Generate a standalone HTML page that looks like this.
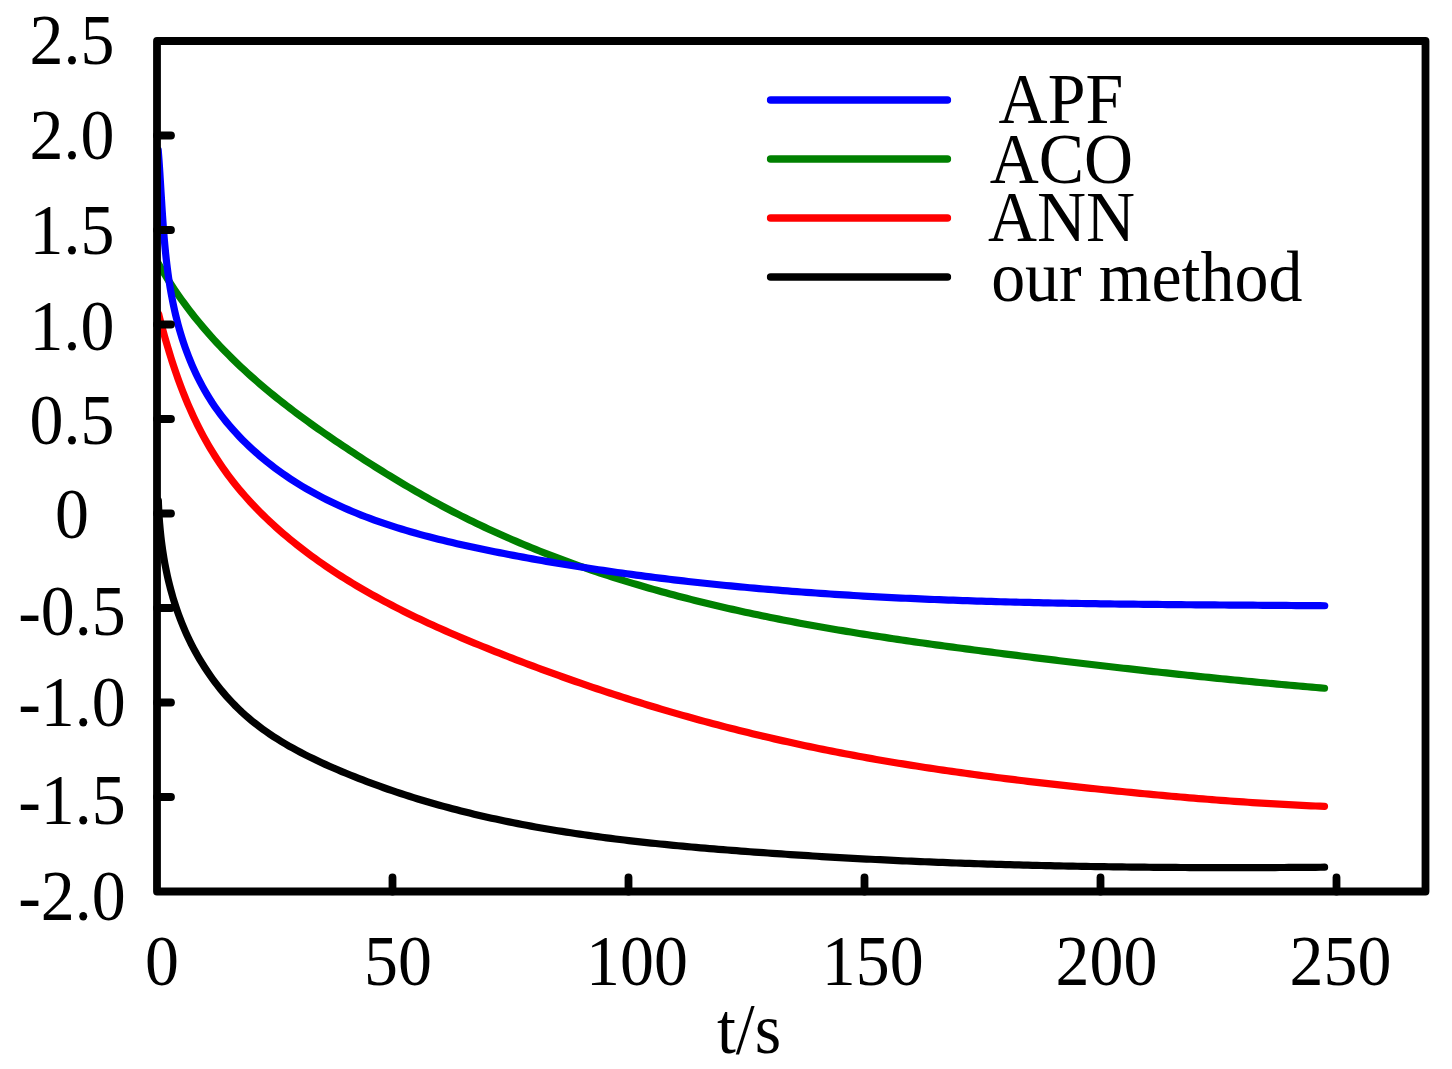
<!DOCTYPE html>
<html><head><meta charset="utf-8"><style>
html,body{margin:0;padding:0;background:#fff;}
svg{display:block;}
text{font-family:"Liberation Serif",serif;fill:#000;}
</style></head><body>
<svg width="1452" height="1069" viewBox="0 0 1452 1069">
<rect width="1452" height="1069" fill="#fff"/>
<defs><clipPath id="pc"><rect x="157" y="41" width="1268.5" height="850.5"/></clipPath></defs>
<g fill="none" stroke-width="7.2" stroke-linecap="round" stroke-linejoin="round">
<g clip-path="url(#pc)">
<path d="M158.33,500.49 L158.50,504.98 L158.71,509.47 L158.96,513.96 L159.25,518.44 L159.59,522.93 L159.97,527.41 L160.40,531.88 L160.87,536.35 L161.39,540.82 L161.96,545.27 L162.59,549.72 L163.26,554.16 L163.98,558.60 L164.76,563.02 L165.60,567.42 L166.49,571.82 L167.43,576.20 L168.44,580.57 L169.50,584.92 L170.62,589.26 L171.81,593.58 L173.05,597.89 L174.36,602.17 L175.74,606.43 L177.18,610.68 L178.69,614.90 L180.26,619.10 L181.90,623.28 L183.62,627.43 L185.40,631.56 L187.26,635.66 L189.18,639.74 L191.18,643.78 L193.25,647.79 L195.38,651.76 L197.59,655.70 L199.86,659.60 L202.20,663.46 L204.61,667.28 L207.09,671.05 L209.64,674.78 L212.25,678.46 L214.92,682.08 L217.66,685.66 L220.47,689.17 L223.34,692.63 L226.28,696.04 L229.28,699.38 L232.34,702.65 L235.46,705.87 L238.65,709.01 L241.90,712.09 L245.21,715.09 L248.58,718.02 L252.01,720.89 L255.49,723.68 L259.03,726.40 L262.62,729.06 L266.26,731.66 L269.94,734.20 L273.67,736.67 L277.45,739.09 L281.26,741.46 L285.12,743.77 L289.00,746.03 L292.93,748.23 L296.88,750.40 L300.87,752.51 L304.88,754.58 L308.91,756.61 L312.97,758.60 L317.05,760.55 L321.15,762.47 L325.27,764.35 L329.39,766.19 L333.53,768.01 L337.68,769.80 L341.84,771.56 L346.01,773.30 L350.18,775.00 L354.36,776.69 L358.55,778.34 L362.74,779.97 L366.94,781.58 L371.15,783.16 L375.37,784.71 L379.59,786.24 L383.82,787.75 L388.05,789.23 L392.30,790.68 L396.55,792.12 L400.80,793.53 L405.06,794.91 L409.33,796.28 L413.60,797.62 L417.89,798.94 L422.17,800.23 L426.46,801.51 L430.76,802.76 L435.07,803.99 L439.38,805.20 L443.69,806.39 L448.01,807.55 L452.34,808.70 L456.67,809.83 L461.00,810.93 L465.35,812.02 L469.69,813.09 L474.04,814.13 L478.40,815.16 L482.76,816.17 L487.13,817.16 L491.50,818.14 L495.87,819.09 L500.25,820.03 L504.64,820.95 L509.02,821.85 L513.42,822.74 L517.81,823.61 L522.21,824.46 L526.62,825.29 L531.03,826.11 L535.44,826.92 L539.85,827.70 L544.27,828.48 L548.69,829.23 L553.12,829.98 L557.55,830.71 L561.98,831.42 L566.42,832.12 L570.86,832.81 L575.30,833.48 L579.74,834.14 L584.19,834.78 L588.64,835.42 L593.09,836.04 L597.55,836.64 L602.01,837.24 L606.47,837.82 L610.93,838.40 L615.39,838.96 L619.86,839.51 L624.33,840.05 L628.80,840.57 L633.27,841.09 L637.74,841.60 L642.22,842.10 L646.70,842.59 L651.18,843.07 L655.66,843.54 L660.14,844.00 L664.62,844.45 L669.11,844.89 L673.59,845.33 L678.08,845.76 L682.56,846.18 L687.05,846.59 L691.54,846.99 L696.03,847.39 L700.52,847.79 L705.01,848.17 L709.50,848.55 L713.99,848.92 L718.48,849.29 L722.97,849.65 L727.46,850.01 L731.95,850.36 L736.44,850.71 L740.93,851.06 L745.42,851.39 L749.91,851.73 L754.40,852.06 L758.89,852.39 L763.38,852.71 L767.87,853.03 L772.36,853.34 L776.85,853.65 L781.33,853.96 L785.82,854.26 L790.31,854.56 L794.80,854.85 L799.28,855.14 L803.77,855.43 L808.26,855.71 L812.74,855.99 L817.23,856.27 L821.71,856.54 L826.20,856.81 L830.68,857.07 L835.17,857.33 L839.65,857.58 L844.14,857.84 L848.62,858.08 L853.11,858.33 L857.59,858.57 L862.08,858.81 L866.56,859.04 L871.04,859.27 L875.53,859.50 L880.01,859.72 L884.49,859.94 L888.98,860.16 L893.46,860.37 L897.95,860.58 L902.43,860.78 L906.91,860.98 L911.39,861.18 L915.88,861.38 L920.36,861.57 L924.84,861.76 L929.33,861.94 L933.81,862.12 L938.29,862.30 L942.78,862.47 L947.26,862.64 L951.74,862.81 L956.22,862.98 L960.71,863.14 L965.19,863.30 L969.67,863.45 L974.16,863.60 L978.64,863.75 L983.12,863.90 L987.61,864.04 L992.09,864.18 L996.57,864.32 L1001.06,864.45 L1005.54,864.58 L1010.02,864.71 L1014.51,864.83 L1018.99,864.95 L1023.48,865.07 L1027.96,865.19 L1032.44,865.30 L1036.93,865.41 L1041.41,865.51 L1045.90,865.62 L1050.38,865.72 L1054.87,865.81 L1059.35,865.91 L1063.84,866.00 L1068.33,866.09 L1072.81,866.18 L1077.30,866.26 L1081.78,866.34 L1086.27,866.42 L1090.76,866.50 L1095.25,866.57 L1099.73,866.64 L1104.22,866.71 L1108.71,866.77 L1113.20,866.84 L1117.68,866.90 L1122.17,866.95 L1126.66,867.01 L1131.15,867.06 L1135.64,867.11 L1140.13,867.16 L1144.62,867.21 L1149.11,867.25 L1153.60,867.29 L1158.10,867.33 L1162.59,867.36 L1167.08,867.40 L1171.57,867.43 L1176.06,867.45 L1180.56,867.48 L1185.05,867.50 L1189.55,867.53 L1194.04,867.55 L1198.54,867.56 L1203.03,867.58 L1207.53,867.59 L1212.02,867.60 L1216.52,867.61 L1221.02,867.62 L1225.51,867.62 L1230.01,867.62 L1234.51,867.62 L1239.01,867.62 L1243.51,867.62 L1248.01,867.61 L1252.51,867.60 L1257.01,867.59 L1261.51,867.58 L1266.01,867.57 L1270.52,867.55 L1275.02,867.54 L1279.52,867.52 L1284.03,867.50 L1288.53,867.47 L1293.04,867.45 L1297.54,867.42 L1302.05,867.39 L1306.56,867.36 L1311.07,867.33 L1315.57,867.30 L1320.08,867.26 L1324.59,867.22" stroke="#000"/>
<path d="M158.64,313.97 L159.74,318.29 L160.87,322.61 L162.02,326.94 L163.19,331.27 L164.39,335.60 L165.61,339.93 L166.87,344.26 L168.15,348.59 L169.46,352.91 L170.80,357.23 L172.17,361.55 L173.58,365.85 L175.02,370.15 L176.49,374.43 L178.00,378.71 L179.55,382.97 L181.14,387.21 L182.77,391.45 L184.43,395.66 L186.14,399.86 L187.89,404.03 L189.69,408.19 L191.53,412.32 L193.42,416.43 L195.35,420.52 L197.33,424.58 L199.36,428.61 L201.44,432.61 L203.57,436.59 L205.75,440.53 L207.98,444.44 L210.26,448.32 L212.60,452.17 L214.98,455.99 L217.41,459.77 L219.90,463.52 L222.43,467.23 L225.02,470.90 L227.66,474.53 L230.35,478.13 L233.10,481.68 L235.89,485.20 L238.74,488.68 L241.63,492.12 L244.57,495.52 L247.56,498.88 L250.59,502.21 L253.66,505.49 L256.77,508.74 L259.93,511.95 L263.12,515.13 L266.36,518.27 L269.63,521.37 L272.93,524.43 L276.27,527.46 L279.65,530.45 L283.05,533.41 L286.49,536.33 L289.95,539.22 L293.44,542.07 L296.96,544.89 L300.51,547.67 L304.08,550.42 L307.67,553.13 L311.29,555.81 L314.93,558.46 L318.59,561.08 L322.27,563.66 L325.98,566.21 L329.71,568.74 L333.46,571.23 L337.23,573.69 L341.01,576.12 L344.82,578.52 L348.65,580.90 L352.49,583.24 L356.36,585.56 L360.24,587.86 L364.14,590.12 L368.05,592.36 L371.98,594.58 L375.93,596.76 L379.89,598.93 L383.87,601.07 L387.86,603.19 L391.87,605.28 L395.89,607.35 L399.92,609.40 L403.96,611.43 L408.02,613.44 L412.09,615.42 L416.17,617.39 L420.26,619.33 L424.36,621.26 L428.47,623.17 L432.60,625.06 L436.73,626.93 L440.86,628.78 L445.01,630.62 L449.17,632.44 L453.33,634.25 L457.50,636.04 L461.67,637.82 L465.85,639.58 L470.04,641.33 L474.23,643.06 L478.42,644.78 L482.62,646.49 L486.83,648.19 L491.03,649.87 L495.24,651.55 L499.46,653.21 L503.67,654.87 L507.88,656.51 L512.10,658.15 L516.32,659.77 L520.54,661.38 L524.76,662.99 L528.99,664.58 L533.21,666.17 L537.44,667.75 L541.67,669.31 L545.91,670.87 L550.14,672.41 L554.38,673.95 L558.62,675.47 L562.86,676.99 L567.10,678.49 L571.35,679.99 L575.60,681.48 L579.85,682.95 L584.10,684.42 L588.36,685.87 L592.62,687.32 L596.88,688.75 L601.14,690.18 L605.41,691.60 L609.68,693.00 L613.95,694.40 L618.23,695.78 L622.50,697.16 L626.78,698.52 L631.07,699.88 L635.36,701.22 L639.65,702.56 L643.94,703.88 L648.23,705.20 L652.53,706.50 L656.84,707.80 L661.14,709.08 L665.45,710.35 L669.76,711.62 L674.08,712.87 L678.40,714.11 L682.72,715.35 L687.05,716.57 L691.38,717.78 L695.71,718.99 L700.05,720.18 L704.39,721.36 L708.74,722.53 L713.08,723.69 L717.44,724.84 L721.79,725.98 L726.15,727.11 L730.52,728.23 L734.89,729.34 L739.26,730.44 L743.63,731.53 L748.01,732.61 L752.40,733.68 L756.79,734.74 L761.18,735.78 L765.57,736.82 L769.97,737.85 L774.37,738.87 L778.78,739.87 L783.19,740.87 L787.60,741.85 L792.01,742.83 L796.43,743.79 L800.84,744.75 L805.27,745.69 L809.69,746.63 L814.11,747.55 L818.54,748.46 L822.97,749.37 L827.40,750.26 L831.84,751.14 L836.27,752.02 L840.70,752.88 L845.14,753.73 L849.58,754.57 L854.02,755.40 L858.46,756.22 L862.90,757.04 L867.34,757.84 L871.79,758.63 L876.23,759.42 L880.68,760.19 L885.12,760.95 L889.57,761.71 L894.02,762.46 L898.47,763.19 L902.92,763.92 L907.37,764.64 L911.83,765.36 L916.28,766.06 L920.74,766.76 L925.19,767.44 L929.65,768.12 L934.11,768.80 L938.57,769.46 L943.03,770.12 L947.49,770.77 L951.95,771.41 L956.41,772.04 L960.88,772.67 L965.34,773.29 L969.81,773.90 L974.27,774.51 L978.74,775.11 L983.21,775.70 L987.68,776.29 L992.15,776.87 L996.62,777.45 L1001.09,778.01 L1005.56,778.58 L1010.03,779.13 L1014.51,779.69 L1018.98,780.23 L1023.45,780.77 L1027.93,781.31 L1032.41,781.84 L1036.88,782.36 L1041.36,782.88 L1045.84,783.40 L1050.32,783.91 L1054.80,784.42 L1059.28,784.92 L1063.76,785.42 L1068.24,785.91 L1072.72,786.40 L1077.21,786.88 L1081.69,787.37 L1086.17,787.84 L1090.66,788.32 L1095.14,788.79 L1099.63,789.26 L1104.12,789.72 L1108.60,790.18 L1113.09,790.64 L1117.58,791.09 L1122.07,791.54 L1126.55,791.99 L1131.04,792.43 L1135.53,792.87 L1140.02,793.31 L1144.51,793.74 L1149.01,794.17 L1153.50,794.59 L1157.99,795.01 L1162.48,795.42 L1166.97,795.83 L1171.47,796.23 L1175.96,796.63 L1180.46,797.03 L1184.95,797.42 L1189.45,797.80 L1193.94,798.18 L1198.44,798.55 L1202.94,798.92 L1207.43,799.28 L1211.93,799.64 L1216.43,799.99 L1220.93,800.33 L1225.43,800.67 L1229.93,801.00 L1234.43,801.33 L1238.93,801.64 L1243.43,801.96 L1247.93,802.26 L1252.43,802.56 L1256.93,802.86 L1261.43,803.14 L1265.94,803.42 L1270.44,803.69 L1274.94,803.96 L1279.45,804.21 L1283.95,804.46 L1288.45,804.70 L1292.96,804.94 L1297.46,805.16 L1301.97,805.38 L1306.48,805.59 L1310.98,805.79 L1315.49,805.99 L1319.99,806.17 L1324.50,806.35" stroke="#ff0000"/>
<path d="M158.22,263.31 L160.35,267.04 L162.53,270.75 L164.74,274.43 L167.00,278.09 L169.30,281.72 L171.64,285.33 L174.02,288.91 L176.43,292.47 L178.89,296.00 L181.38,299.51 L183.91,302.99 L186.47,306.44 L189.07,309.87 L191.70,313.27 L194.36,316.65 L197.06,320.00 L199.79,323.32 L202.56,326.62 L205.35,329.89 L208.17,333.14 L211.03,336.36 L213.91,339.55 L216.82,342.71 L219.76,345.85 L222.72,348.95 L225.71,352.04 L228.73,355.09 L231.77,358.12 L234.84,361.11 L237.93,364.09 L241.04,367.03 L244.18,369.95 L247.33,372.84 L250.51,375.71 L253.72,378.56 L256.94,381.38 L260.18,384.18 L263.44,386.95 L266.72,389.70 L270.02,392.43 L273.34,395.14 L276.68,397.83 L280.03,400.50 L283.40,403.15 L286.79,405.78 L290.19,408.39 L293.60,410.99 L297.04,413.57 L300.48,416.12 L303.94,418.67 L307.41,421.20 L310.90,423.71 L314.40,426.20 L317.91,428.69 L321.43,431.16 L324.96,433.61 L328.50,436.06 L332.05,438.49 L335.61,440.91 L339.18,443.32 L342.75,445.71 L346.34,448.10 L349.93,450.48 L353.53,452.85 L357.13,455.21 L360.75,457.56 L364.37,459.90 L367.99,462.22 L371.63,464.54 L375.27,466.85 L378.92,469.14 L382.57,471.42 L386.24,473.69 L389.91,475.94 L393.59,478.19 L397.28,480.41 L400.97,482.63 L404.67,484.83 L408.38,487.01 L412.10,489.18 L415.83,491.34 L419.57,493.48 L423.31,495.60 L427.06,497.70 L430.82,499.79 L434.59,501.87 L438.37,503.92 L442.16,505.96 L445.95,507.98 L449.76,509.98 L453.57,511.96 L457.40,513.92 L461.23,515.86 L465.07,517.79 L468.91,519.69 L472.77,521.58 L476.63,523.45 L480.51,525.30 L484.39,527.13 L488.28,528.95 L492.18,530.75 L496.08,532.53 L499.99,534.29 L503.91,536.03 L507.84,537.76 L511.78,539.47 L515.72,541.17 L519.67,542.84 L523.63,544.50 L527.59,546.14 L531.56,547.77 L535.54,549.38 L539.52,550.97 L543.51,552.55 L547.51,554.11 L551.52,555.65 L555.53,557.18 L559.54,558.69 L563.57,560.19 L567.60,561.67 L571.63,563.13 L575.67,564.58 L579.72,566.02 L583.77,567.44 L587.83,568.84 L591.89,570.23 L595.96,571.61 L600.03,572.97 L604.11,574.31 L608.20,575.64 L612.28,576.96 L616.38,578.26 L620.48,579.55 L624.58,580.82 L628.69,582.08 L632.80,583.33 L636.92,584.56 L641.04,585.78 L645.16,586.98 L649.29,588.17 L653.42,589.35 L657.56,590.52 L661.70,591.67 L665.85,592.81 L669.99,593.93 L674.15,595.05 L678.30,596.15 L682.46,597.24 L686.62,598.31 L690.78,599.38 L694.95,600.43 L699.12,601.47 L703.29,602.50 L707.47,603.51 L711.65,604.52 L715.83,605.51 L720.01,606.49 L724.20,607.46 L728.39,608.42 L732.58,609.37 L736.77,610.31 L740.97,611.24 L745.17,612.15 L749.37,613.06 L753.57,613.95 L757.78,614.84 L761.98,615.72 L766.19,616.58 L770.40,617.44 L774.62,618.29 L778.83,619.12 L783.05,619.95 L787.27,620.77 L791.49,621.58 L795.72,622.38 L799.94,623.18 L804.17,623.96 L808.40,624.74 L812.63,625.50 L816.86,626.26 L821.09,627.02 L825.33,627.76 L829.57,628.50 L833.81,629.23 L838.04,629.95 L842.29,630.66 L846.53,631.37 L850.77,632.07 L855.02,632.76 L859.27,633.45 L863.51,634.13 L867.76,634.80 L872.01,635.47 L876.26,636.13 L880.52,636.78 L884.77,637.43 L889.02,638.08 L893.28,638.72 L897.53,639.35 L901.79,639.98 L906.05,640.60 L910.31,641.22 L914.57,641.83 L918.83,642.44 L923.09,643.04 L927.35,643.64 L931.61,644.23 L935.87,644.82 L940.14,645.41 L944.40,645.99 L948.66,646.57 L952.93,647.15 L957.19,647.72 L961.45,648.29 L965.72,648.85 L969.98,649.41 L974.25,649.97 L978.51,650.53 L982.78,651.08 L987.05,651.64 L991.31,652.19 L995.58,652.73 L999.84,653.28 L1004.11,653.82 L1008.37,654.36 L1012.64,654.90 L1016.90,655.44 L1021.17,655.98 L1025.43,656.51 L1029.69,657.04 L1033.96,657.57 L1038.22,658.10 L1042.49,658.63 L1046.75,659.15 L1051.02,659.67 L1055.28,660.19 L1059.55,660.71 L1063.81,661.22 L1068.07,661.74 L1072.34,662.25 L1076.60,662.76 L1080.87,663.27 L1085.13,663.77 L1089.40,664.27 L1093.66,664.78 L1097.93,665.27 L1102.19,665.77 L1106.46,666.27 L1110.73,666.76 L1114.99,667.25 L1119.26,667.73 L1123.52,668.22 L1127.79,668.70 L1132.06,669.18 L1136.32,669.66 L1140.59,670.14 L1144.86,670.61 L1149.13,671.08 L1153.40,671.55 L1157.66,672.02 L1161.93,672.48 L1166.20,672.95 L1170.47,673.41 L1174.74,673.86 L1179.01,674.32 L1183.28,674.77 L1187.56,675.22 L1191.83,675.67 L1196.10,676.11 L1200.37,676.55 L1204.65,676.99 L1208.92,677.43 L1213.19,677.86 L1217.47,678.30 L1221.74,678.73 L1226.02,679.15 L1230.29,679.58 L1234.57,680.00 L1238.85,680.42 L1243.13,680.83 L1247.40,681.25 L1251.68,681.66 L1255.96,682.07 L1260.24,682.47 L1264.52,682.87 L1268.81,683.27 L1273.09,683.67 L1277.37,684.06 L1281.65,684.46 L1285.94,684.84 L1290.22,685.23 L1294.51,685.61 L1298.80,685.99 L1303.08,686.37 L1307.37,686.75 L1311.66,687.12 L1315.95,687.49 L1320.24,687.85 L1324.53,688.22" stroke="#008000"/>
<path d="M158.21,150.07 L158.58,154.72 L158.93,159.39 L159.26,164.07 L159.58,168.76 L159.89,173.46 L160.18,178.17 L160.48,182.89 L160.76,187.61 L161.05,192.35 L161.34,197.09 L161.63,201.84 L161.92,206.59 L162.23,211.34 L162.54,216.10 L162.87,220.86 L163.21,225.62 L163.57,230.39 L163.95,235.15 L164.35,239.91 L164.77,244.67 L165.23,249.43 L165.71,254.19 L166.22,258.94 L166.77,263.69 L167.35,268.43 L167.98,273.16 L168.64,277.89 L169.35,282.61 L170.10,287.32 L170.91,292.02 L171.76,296.71 L172.66,301.39 L173.63,306.06 L174.65,310.71 L175.73,315.35 L176.87,319.98 L178.08,324.59 L179.35,329.18 L180.69,333.76 L182.10,338.31 L183.58,342.84 L185.12,347.34 L186.74,351.82 L188.44,356.27 L190.20,360.68 L192.05,365.06 L193.96,369.41 L195.96,373.72 L198.04,377.99 L200.19,382.22 L202.43,386.41 L204.75,390.56 L207.15,394.65 L209.64,398.70 L212.21,402.70 L214.87,406.64 L217.62,410.53 L220.45,414.37 L223.36,418.15 L226.35,421.87 L229.41,425.54 L232.55,429.15 L235.75,432.71 L239.02,436.20 L242.35,439.64 L245.75,443.01 L249.20,446.33 L252.70,449.58 L256.26,452.78 L259.87,455.91 L263.52,458.98 L267.21,461.98 L270.94,464.92 L274.71,467.80 L278.52,470.61 L282.36,473.36 L286.24,476.04 L290.15,478.67 L294.09,481.24 L298.06,483.75 L302.07,486.20 L306.11,488.59 L310.18,490.93 L314.28,493.22 L318.41,495.45 L322.57,497.63 L326.75,499.75 L330.96,501.83 L335.20,503.86 L339.46,505.84 L343.75,507.77 L348.06,509.65 L352.40,511.49 L356.76,513.29 L361.14,515.04 L365.54,516.75 L369.96,518.42 L374.40,520.05 L378.87,521.64 L383.35,523.19 L387.84,524.71 L392.36,526.19 L396.89,527.63 L401.44,529.04 L406.00,530.42 L410.58,531.76 L415.17,533.08 L419.77,534.36 L424.39,535.62 L429.01,536.85 L433.65,538.05 L438.30,539.22 L442.96,540.37 L447.62,541.50 L452.30,542.60 L456.98,543.68 L461.67,544.75 L466.36,545.79 L471.06,546.81 L475.76,547.82 L480.47,548.81 L485.18,549.78 L489.90,550.74 L494.61,551.68 L499.33,552.62 L504.04,553.54 L508.76,554.45 L513.47,555.35 L518.19,556.24 L522.91,557.12 L527.62,557.98 L532.34,558.84 L537.06,559.68 L541.78,560.52 L546.49,561.34 L551.21,562.15 L555.93,562.96 L560.65,563.75 L565.37,564.53 L570.09,565.30 L574.81,566.06 L579.52,566.81 L584.24,567.56 L588.96,568.29 L593.68,569.01 L598.40,569.72 L603.12,570.42 L607.84,571.11 L612.57,571.80 L617.29,572.47 L622.01,573.13 L626.73,573.79 L631.45,574.43 L636.17,575.07 L640.90,575.69 L645.62,576.31 L650.34,576.92 L655.06,577.52 L659.79,578.11 L664.51,578.69 L669.23,579.26 L673.96,579.82 L678.68,580.38 L683.41,580.92 L688.13,581.46 L692.86,581.99 L697.58,582.51 L702.31,583.03 L707.03,583.53 L711.76,584.03 L716.49,584.52 L721.21,585.00 L725.94,585.47 L730.67,585.93 L735.40,586.39 L740.12,586.84 L744.85,587.28 L749.58,587.72 L754.31,588.14 L759.04,588.56 L763.77,588.97 L768.50,589.38 L773.23,589.77 L777.96,590.16 L782.69,590.55 L787.42,590.92 L792.15,591.29 L796.89,591.65 L801.62,592.01 L806.35,592.36 L811.08,592.70 L815.82,593.03 L820.55,593.36 L825.28,593.69 L830.02,594.00 L834.75,594.31 L839.49,594.62 L844.22,594.91 L848.96,595.20 L853.69,595.49 L858.43,595.77 L863.17,596.04 L867.90,596.31 L872.64,596.57 L877.38,596.83 L882.12,597.08 L886.86,597.32 L891.59,597.56 L896.33,597.80 L901.07,598.03 L905.81,598.25 L910.55,598.47 L915.29,598.68 L920.04,598.89 L924.78,599.09 L929.52,599.29 L934.26,599.49 L939.01,599.68 L943.75,599.86 L948.49,600.04 L953.24,600.21 L957.98,600.39 L962.73,600.55 L967.47,600.71 L972.22,600.87 L976.96,601.03 L981.71,601.18 L986.46,601.32 L991.20,601.46 L995.95,601.60 L1000.70,601.73 L1005.45,601.86 L1010.20,601.99 L1014.95,602.11 L1019.70,602.23 L1024.45,602.35 L1029.20,602.46 L1033.95,602.57 L1038.70,602.68 L1043.45,602.78 L1048.21,602.88 L1052.96,602.98 L1057.71,603.07 L1062.47,603.16 L1067.22,603.25 L1071.98,603.33 L1076.73,603.41 L1081.49,603.49 L1086.25,603.57 L1091.00,603.65 L1095.76,603.72 L1100.52,603.79 L1105.28,603.86 L1110.03,603.92 L1114.79,603.99 L1119.55,604.05 L1124.31,604.11 L1129.08,604.16 L1133.84,604.22 L1138.60,604.27 L1143.36,604.33 L1148.12,604.38 L1152.89,604.43 L1157.65,604.47 L1162.42,604.52 L1167.18,604.56 L1171.95,604.61 L1176.71,604.65 L1181.48,604.69 L1186.25,604.73 L1191.01,604.77 L1195.78,604.81 L1200.55,604.85 L1205.32,604.88 L1210.09,604.92 L1214.86,604.95 L1219.63,604.99 L1224.40,605.02 L1229.17,605.06 L1233.95,605.09 L1238.72,605.12 L1243.49,605.16 L1248.27,605.19 L1253.04,605.22 L1257.82,605.26 L1262.59,605.29 L1267.37,605.32 L1272.15,605.35 L1276.92,605.39 L1281.70,605.42 L1286.48,605.46 L1291.26,605.49 L1296.04,605.53 L1300.82,605.56 L1305.60,605.60 L1310.38,605.64 L1315.16,605.68 L1319.95,605.72 L1324.73,605.76" stroke="#0000ff"/>
</g>
<line x1="770.6" y1="99.9" x2="947.4" y2="99.9" stroke="#0000ff" stroke-width="7.5"/><line x1="770.6" y1="158.9" x2="947.4" y2="158.9" stroke="#008000" stroke-width="7.5"/><line x1="770.6" y1="217.9" x2="947.4" y2="217.9" stroke="#ff0000" stroke-width="7.5"/><line x1="770.6" y1="276.9" x2="947.4" y2="276.9" stroke="#000000" stroke-width="7.5"/>
</g>
<g stroke="#000" stroke-width="7.8" stroke-linecap="round" fill="none">
<line x1="157" y1="135.5" x2="171" y2="135.5"/><line x1="157" y1="230.0" x2="171" y2="230.0"/><line x1="157" y1="324.5" x2="171" y2="324.5"/><line x1="157" y1="419.0" x2="171" y2="419.0"/><line x1="157" y1="513.5" x2="171" y2="513.5"/><line x1="157" y1="608.0" x2="171" y2="608.0"/><line x1="157" y1="702.5" x2="171" y2="702.5"/><line x1="157" y1="797.0" x2="171" y2="797.0"/><line x1="392.5" y1="891.5" x2="392.5" y2="877.5"/><line x1="628.5" y1="891.5" x2="628.5" y2="877.5"/><line x1="864.5" y1="891.5" x2="864.5" y2="877.5"/><line x1="1100.5" y1="891.5" x2="1100.5" y2="877.5"/><line x1="1336.5" y1="891.5" x2="1336.5" y2="877.5"/>
<rect x="157" y="41" width="1268.5" height="850.5" stroke-linejoin="round"/>
</g>
<text transform="translate(72,64.0) scale(0.95,1)" text-anchor="middle" font-size="71.5">2.5</text><text transform="translate(72,159.0) scale(0.95,1)" text-anchor="middle" font-size="71.5">2.0</text><text transform="translate(72,254.0) scale(0.95,1)" text-anchor="middle" font-size="71.5">1.5</text><text transform="translate(72,349.5) scale(0.95,1)" text-anchor="middle" font-size="71.5">1.0</text><text transform="translate(72,443.5) scale(0.95,1)" text-anchor="middle" font-size="71.5">0.5</text><text transform="translate(72,537.5) scale(0.95,1)" text-anchor="middle" font-size="71.5">0</text><text transform="translate(72,635.0) scale(0.95,1)" text-anchor="middle" font-size="71.5">-0.5</text><text transform="translate(72,726.0) scale(0.95,1)" text-anchor="middle" font-size="71.5">-1.0</text><text transform="translate(72,824.0) scale(0.95,1)" text-anchor="middle" font-size="71.5">-1.5</text><text transform="translate(72,919.5) scale(0.95,1)" text-anchor="middle" font-size="71.5">-2.0</text>
<text transform="translate(162.0,985) scale(0.95,1)" text-anchor="middle" font-size="71.5">0</text><text transform="translate(398.0,985) scale(0.95,1)" text-anchor="middle" font-size="71.5">50</text><text transform="translate(637.0,985) scale(0.95,1)" text-anchor="middle" font-size="71.5">100</text><text transform="translate(872.7,985) scale(0.95,1)" text-anchor="middle" font-size="71.5">150</text><text transform="translate(1106.5,985) scale(0.95,1)" text-anchor="middle" font-size="71.5">200</text><text transform="translate(1340.5,985) scale(0.95,1)" text-anchor="middle" font-size="71.5">250</text>
<text transform="translate(749,1052.5) scale(0.95,1)" text-anchor="middle" font-size="71.5">t/s</text>
<text transform="translate(998.5849999999999,122.9) scale(0.95,1)" text-anchor="start" font-size="71.5">APF</text><text transform="translate(989.785,183) scale(0.95,1)" text-anchor="start" font-size="71.5">ACO</text><text transform="translate(987.885,241.1) scale(0.95,1)" text-anchor="start" font-size="71.5">ANN</text><text transform="translate(991.14,300.8) scale(0.95,1)" text-anchor="start" font-size="71.5">our method</text>
</svg>
</body></html>
